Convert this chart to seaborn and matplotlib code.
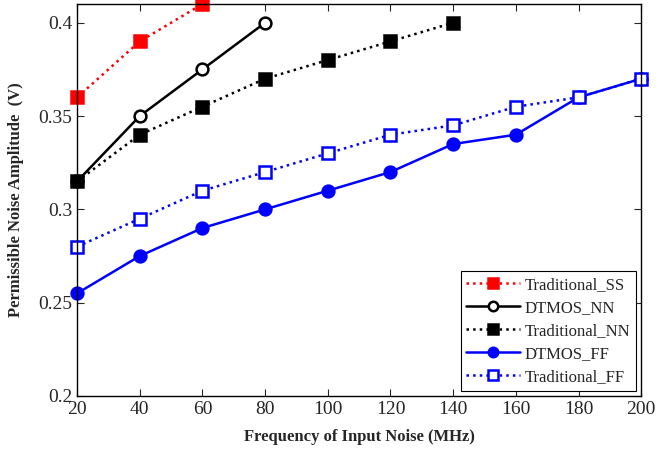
import matplotlib
matplotlib.use('Agg')
import matplotlib.pyplot as plt
import seaborn as sns
import pandas as pd

# datos
freq = [20, 40, 60, 80, 100, 120, 140, 160, 180, 200]
trad_ss = [0.36, 0.39, 0.41]
dtmos_nn = [0.315, 0.35, 0.375, 0.40]
trad_nn = [0.315, 0.34, 0.355, 0.37, 0.38, 0.39, 0.40]
dtmos_ff = [0.255, 0.275, 0.29, 0.30, 0.31, 0.32, 0.335, 0.34, 0.36, 0.37]
trad_ff = [0.28, 0.295, 0.31, 0.32, 0.33, 0.34, 0.345, 0.355, 0.36, 0.37]

sns.set_style('ticks')
plt.rcParams['font.family'] = ['Liberation Serif', 'DejaVu Serif']

series = [
    ('Traditional_SS', trad_ss, 'red', ':', 's', 'red'),
    ('DTMOS_NN', dtmos_nn, 'black', '-', 'o', 'white'),
    ('Traditional_NN', trad_nn, 'black', ':', 's', 'black'),
    ('DTMOS_FF', dtmos_ff, 'blue', '-', 'o', 'blue'),
    ('Traditional_FF', trad_ff, 'blue', ':', 's', 'white'),
]

fig = plt.figure(figsize=(6.59, 4.51), dpi=100)
ax = fig.add_axes([0.117, 0.122, 0.856, 0.869])

for nombre, vals, color, ls, mk, mfc in series:
    df = pd.DataFrame({'x': freq[:len(vals)], 'y': vals})
    sns.lineplot(data=df, x='x', y='y', ax=ax, color=color, linestyle=ls,
                 marker=mk, markersize=8.5, markerfacecolor=mfc,
                 markeredgecolor=color, markeredgewidth=1.8,
                 linewidth=1.8, label=nombre, clip_on=False)

ax.set_xlim(20, 200)
ax.set_ylim(0.2, 0.41)
ax.set_xticks([20, 40, 60, 80, 100, 120, 140, 160, 180, 200])
ax.set_yticks([0.2, 0.25, 0.3, 0.35, 0.4])
ax.set_yticklabels(['0.2', '0.25', '0.3', '0.35', '0.4'])
ax.tick_params(direction='in', top=True, right=True, labelsize=14, length=5, width=0.8)
for s in ax.spines.values():
    s.set_linewidth(1.0)
    s.set_color('black')

ax.set_xlabel('Frequency of Input Noise (MHz)', fontsize=12, fontweight='bold', labelpad=8)
ax.set_ylabel('Permissible Noise Amplitude  (V)', fontsize=12, fontweight='bold', labelpad=10)

leg = ax.legend(loc='lower right', fontsize=12, handlelength=3.2, borderpad=0.35,
                labelspacing=0.42, handletextpad=0.3, fancybox=False, framealpha=1,
                edgecolor='black', borderaxespad=0.3, markerscale=0.8)
leg.get_frame().set_linewidth(0.8)
leg.set_zorder(5)

fig.savefig('out.png', dpi=100)
